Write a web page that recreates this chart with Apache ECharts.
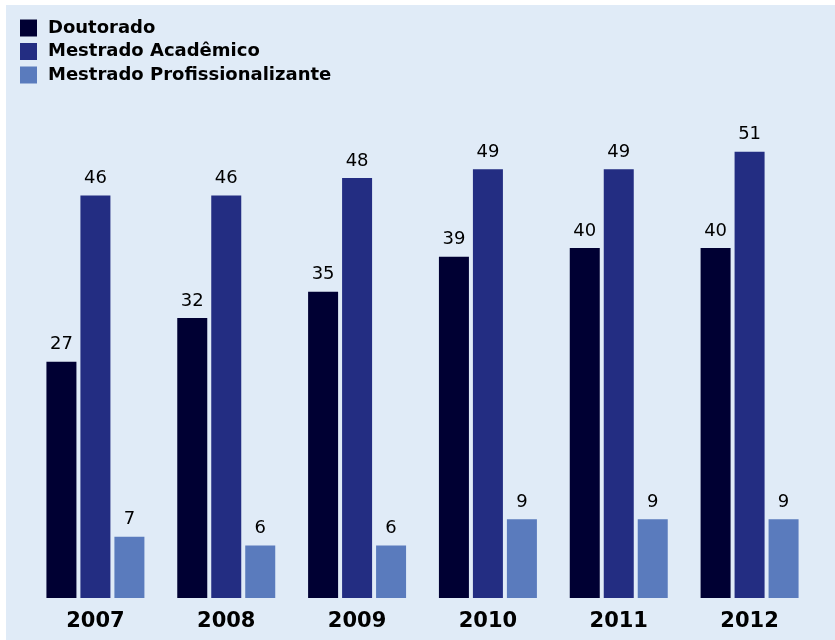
<!DOCTYPE html>
<html>
<head>
<meta charset="utf-8">
<script src="https://cdn.jsdelivr.net/npm/echarts@6/dist/echarts.min.js"></script>
<style>
  html, body { margin: 0; padding: 0; background: #ffffff; }
  #chart { position: absolute; left: 6px; top: 5px; width: 829px; height: 635px; background: #E0EBF7; }
</style>
</head>
<body>
<div id="chart"></div>
<script>
// Programas de pós-graduação por ano
const years = ['2007', '2008', '2009', '2010', '2011', '2012'];
const doutorado = [27, 32, 35, 39, 40, 40];
const mestradoAcademico = [46, 46, 48, 49, 49, 51];
const mestradoProfissional = [7, 6, 6, 9, 9, 9];

const seriesNames = ['Doutorado', 'Mestrado Acadêmico', 'Mestrado Profissionalizante'];
const seriesColors = ['#000033', '#232D82', '#5A7BBD'];
const seriesData = [doutorado, mestradoAcademico, mestradoProfissional];

const chart = echarts.init(document.getElementById('chart'));

chart.setOption({
  backgroundColor: 'transparent',
  animation: false,
  legend: {
    orient: 'vertical',
    left: 14,
    top: 14,
    padding: 0,
    itemWidth: 17,
    itemHeight: 17,
    itemGap: 5.5,
    icon: 'rect',
    data: seriesNames,
    textStyle: {
      fontFamily: 'DejaVu Sans',
      fontWeight: 'bold',
      fontSize: 18,
      lineHeight: 17,
      color: '#000000',
      padding: [0, 0, 0, 6]
    }
  },
  grid: { left: 24, right: 20, top: 68, bottom: 42, containLabel: false },
  xAxis: {
    type: 'category',
    data: years,
    axisLine: { show: false },
    axisTick: { show: false },
    axisLabel: {
      margin: 13,
      fontFamily: 'DejaVu Sans',
      fontWeight: 'bold',
      fontSize: 21,
      color: '#000000'
    }
  },
  yAxis: {
    type: 'value',
    min: 0,
    max: 60,
    show: false,
    splitLine: { show: false }
  },
  series: seriesNames.map((name, i) => ({
    name: name,
    type: 'bar',
    data: seriesData[i],
    barWidth: 30,
    barGap: '13.3%',
    itemStyle: { color: seriesColors[i] },
    label: {
      show: true,
      position: 'top',
      distance: 8,
      fontFamily: 'DejaVu Sans',
      fontSize: 18,
      color: '#000000'
    }
  }))
});
</script>
</body>
</html>
